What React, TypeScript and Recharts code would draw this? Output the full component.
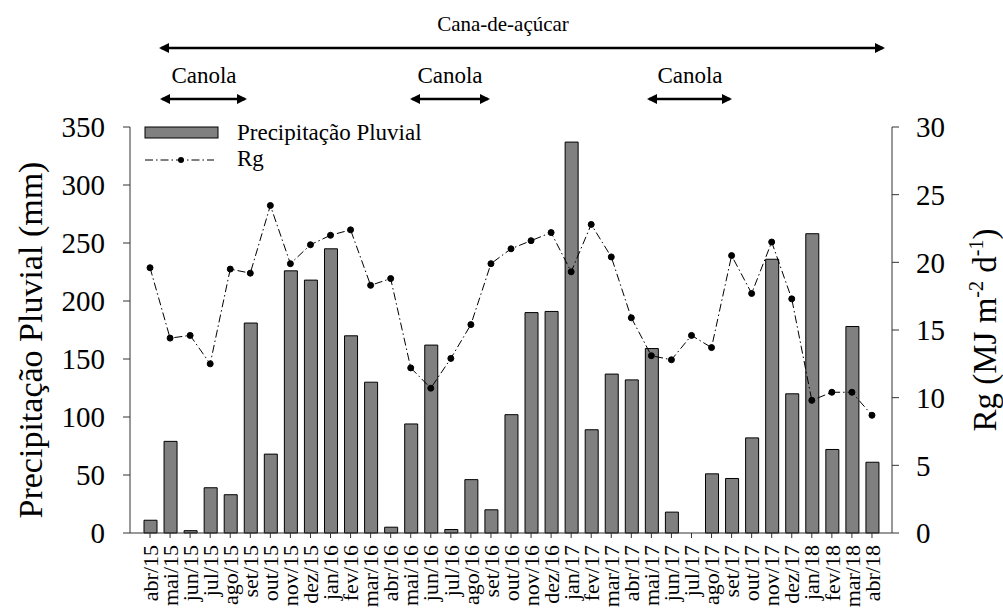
import React from 'react';
import { ComposedChart, Bar, Line, XAxis, YAxis } from 'recharts';

// monthly series, abr/15 .. abr/18
const months = [
  'abr/15', 'mai/15', 'jun/15', 'jul/15', 'ago/15', 'set/15', 'out/15', 'nov/15', 'dez/15',
  'jan/16', 'fev/16', 'mar/16', 'abr/16', 'mai/16', 'jun/16', 'jul/16', 'ago/16', 'set/16',
  'out/16', 'nov/16', 'dez/16', 'jan/17', 'fev/17', 'mar/17', 'abr/17', 'mai/17', 'jun/17',
  'jul/17', 'ago/17', 'set/17', 'out/17', 'nov/17', 'dez/17', 'jan/18', 'fev/18', 'mar/18', 'abr/18',
];
const precipitacao = [
  11, 79, 2, 39, 33, 181, 68, 226, 218,
  245, 170, 130, 5, 94, 162, 3, 46, 20,
  102, 190, 191, 337, 89, 137, 132, 159, 18,
  0, 51, 47, 82, 236, 120, 258, 72, 178, 61,
];
const rg = [
  19.6, 14.4, 14.6, 12.5, 19.5, 19.2, 24.2, 19.9, 21.3,
  22.0, 22.4, 18.3, 18.8, 12.2, 10.7, 12.9, 15.4, 19.9,
  21.0, 21.6, 22.2, 19.3, 22.8, 20.4, 15.9, 13.1, 12.8,
  14.6, 13.7, 20.5, 17.7, 21.5, 17.3, 9.8, 10.4, 10.4, 8.7,
];
const leftTicks = [0, 50, 100, 150, 200, 250, 300, 350];
const rightTicks = [0, 5, 10, 15, 20, 25, 30];

const data = months.map((m, i) => ({ mes: m, prec: precipitacao[i], rg: rg[i] }));

const FONT = 'Liberation Serif';
const AXIS = '#333';
const DASH = '8 3 1.5 3';

const MonthTick = (props: any) => {
  const { x, y, payload } = props;
  return (
    <text
      x={x}
      y={y}
      transform={`rotate(-90 ${x} ${y})`}
      textAnchor="end"
      dy="0.35em"
      style={{ fontFamily: FONT, fontSize: 22 }}
      fill="#000"
    >
      {payload.value}
    </text>
  );
};

const Arrow = ({ x1, x2, y }: { x1: number; x2: number; y: number }) => (
  <line x1={x1} y1={y} x2={x2} y2={y} stroke="#000" strokeWidth={2.5}
    markerStart="url(#head)" markerEnd="url(#head)" />
);

export default function App() {
  return (
    <div style={{ position: 'absolute', left: 0, top: 0, width: 1003, height: 610, background: '#fff', fontFamily: FONT }}>
      <ComposedChart
        width={1003}
        height={610}
        data={data}
        margin={{ top: 127, right: 51, bottom: 0, left: 70 }}
      >
        <XAxis
          dataKey="mes"
          interval={0}
          height={77}
          padding={{ left: 10, right: 10 }}
          stroke={AXIS}
          tickSize={5}
          tickMargin={7}
          tick={<MonthTick />}
        />
        <YAxis
          yAxisId="left"
          domain={[0, 350]}
          ticks={leftTicks}
          width={60}
          stroke={AXIS}
          tickSize={7}
          tickMargin={18}
          tick={{ fill: '#000', fontSize: 29, style: { fontFamily: FONT } }}
        />
        <YAxis
          yAxisId="right"
          orientation="right"
          domain={[0, 30]}
          ticks={rightTicks}
          width={60}
          stroke={AXIS}
          tickSize={7}
          tickMargin={17}
          tick={{ fill: '#000', fontSize: 29, style: { fontFamily: FONT } }}
        />
        <Bar
          yAxisId="left"
          dataKey="prec"
          barSize={13}
          fill="#808080"
          stroke="#000"
          strokeWidth={1}
          isAnimationActive={false}
        />
        <Line
          yAxisId="right"
          dataKey="rg"
          type="linear"
          stroke="#000"
          strokeWidth={1}
          strokeDasharray={DASH}
          dot={{ r: 3, fill: '#000', stroke: '#000', strokeDasharray: '0' }}
          isAnimationActive={false}
        />
      </ComposedChart>

      <svg width={1003} height={610} style={{ position: 'absolute', left: 0, top: 0, pointerEvents: 'none', fontFamily: FONT }}>
        <defs>
          <marker id="head" viewBox="0 0 10 10" refX="8" refY="5" markerWidth="4" markerHeight="4"
            orient="auto-start-reverse" markerUnits="strokeWidth">
            <path d="M0,0 L10,5 L0,10 z" fill="#000" />
          </marker>
        </defs>

        {/* crop periods */}
        <text x={503} y={31} textAnchor="middle" fontSize={21}>Cana-de-açúcar</text>
        <Arrow x1={161} x2={883} y={48} />
        <text x={204} y={83} textAnchor="middle" fontSize={23}>Canola</text>
        <Arrow x1={162} x2={245} y={99} />
        <text x={450} y={83} textAnchor="middle" fontSize={23}>Canola</text>
        <Arrow x1={412} x2={488} y={99} />
        <text x={690} y={83} textAnchor="middle" fontSize={23}>Canola</text>
        <Arrow x1={649} x2={730} y={99} />

        {/* legend */}
        <rect x={145} y={127} width={73} height={11} fill="#808080" stroke="#000" strokeWidth={1} />
        <text x={237} y={140} fontSize={23}>Precipitação Pluvial</text>
        <line x1={145} y1={160} x2={214} y2={160} stroke="#000" strokeWidth={1} strokeDasharray={DASH} />
        <circle cx={181} cy={160} r={3} fill="#000" />
        <text x={237} y={166} fontSize={23}>Rg</text>

        {/* axis titles */}
        <text x={42} y={340} transform="rotate(-90 42 340)" textAnchor="middle" fontSize={34}>
          Precipitação Pluvial (mm)
        </text>
        <text x={996} y={330} transform="rotate(-90 996 330)" textAnchor="middle" fontSize={33}>
          Rg (MJ m<tspan fontSize={20} dy={-13}>-2</tspan><tspan dy={13}> d</tspan>
          <tspan fontSize={20} dy={-13}>-1</tspan><tspan dy={13}>)</tspan>
        </text>
      </svg>
    </div>
  );
}
